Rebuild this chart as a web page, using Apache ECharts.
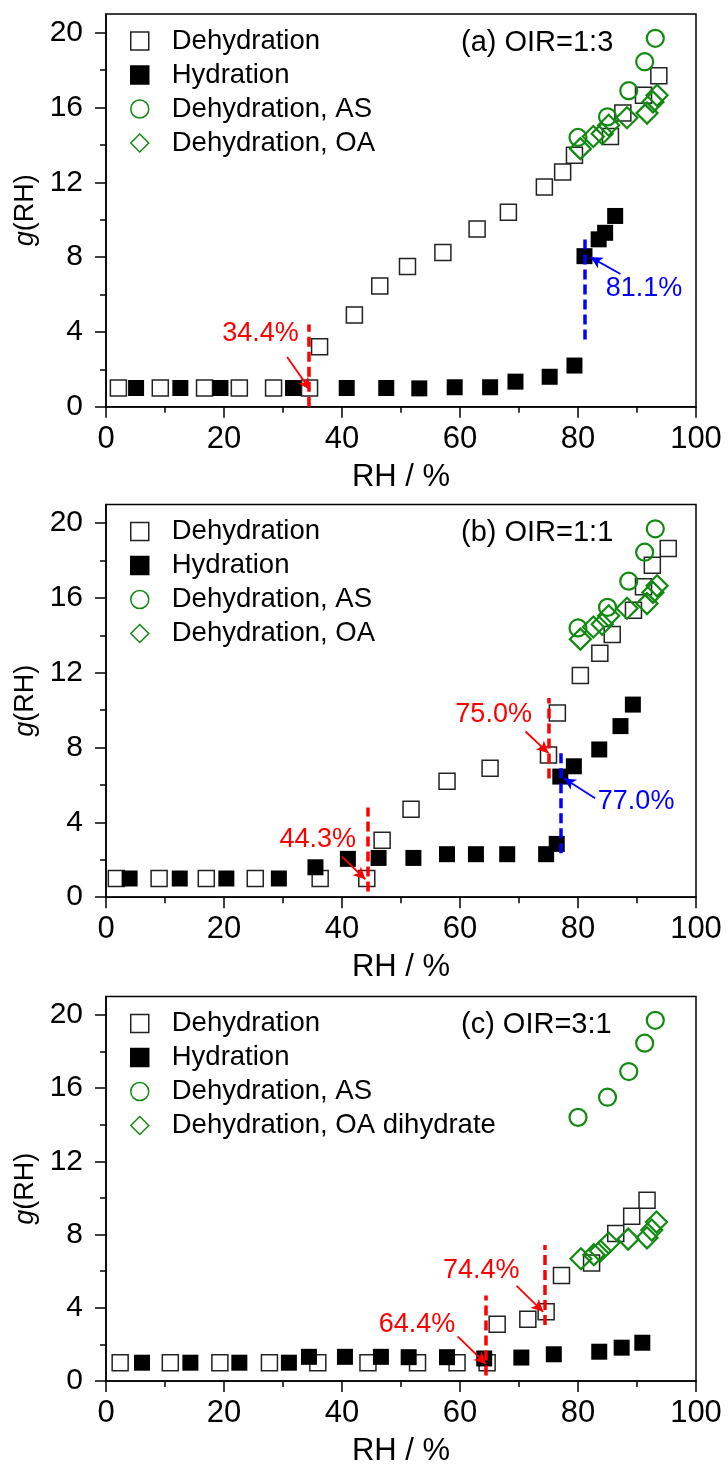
<!DOCTYPE html>
<html>
<head>
<meta charset="utf-8">
<script src="https://cdn.jsdelivr.net/npm/echarts@6/dist/echarts.min.js"></script>
<style>
  html, body { margin: 0; padding: 0; background: #fff; }
  #chart { width: 728px; height: 1468px; }
</style>
</head>
<body>
<div id="chart"></div>
<script>
  // ---- data, [RH %, g(RH)] ----
  // (a) OIR=1:3
  const dehydA = [[2.1, 1.0], [9.2, 1.0], [16.7, 1.0], [22.6, 1.0], [28.4, 1.0], [34.5, 1.0], [36.2, 3.2], [42.1, 4.9], [46.4, 6.45], [51.1, 7.5], [57.1, 8.25], [62.9, 9.5], [68.2, 10.4], [74.3, 11.75], [77.4, 12.55], [79.4, 13.45], [85.5, 14.45], [87.6, 15.7], [91.1, 16.65], [93.7, 17.7]];
  const hydA = [[5.1, 1.0], [12.6, 1.0], [19.4, 1.0], [31.7, 1.0], [40.8, 1.0], [47.5, 1.0], [53.1, 0.98], [59.1, 1.04], [65.1, 1.04], [69.4, 1.34], [75.2, 1.6], [79.4, 2.2], [81.1, 8.05], [83.5, 8.95], [84.6, 9.3], [86.3, 10.2]];
  // (b) OIR=1:1
  const dehydB = [[1.75, 1.0], [9.0, 1.0], [17.0, 1.0], [25.3, 1.0], [36.3, 1.0], [44.2, 1.0], [46.8, 3.05], [51.7, 4.7], [57.8, 6.2], [65.1, 6.9], [75.0, 7.6], [76.5, 9.85], [80.4, 11.85], [83.7, 13.05], [85.8, 14.05], [89.4, 15.35], [91.1, 16.6], [92.6, 17.75], [95.3, 18.65]];
  const hydB = [[4.0, 1.0], [12.5, 1.0], [20.4, 1.0], [29.3, 1.0], [35.5, 1.6], [41.0, 2.05], [46.2, 2.1], [52.1, 2.1], [57.8, 2.3], [62.7, 2.3], [68.0, 2.3], [74.6, 2.3], [76.4, 2.85], [77.0, 6.45], [79.3, 7.0], [83.6, 7.9], [87.2, 9.15], [89.3, 10.3]];
  // (c) OIR=3:1
  const dehydC = [[2.4, 1.0], [10.9, 1.0], [19.3, 1.0], [27.7, 1.0], [35.9, 1.0], [44.4, 1.0], [52.8, 1.0], [59.5, 1.0], [64.6, 1.0], [66.3, 3.1], [71.5, 3.37], [74.6, 3.78], [77.2, 5.76], [82.3, 6.45], [86.4, 8.05], [89.1, 9.0], [91.7, 9.87]];
  const hydC = [[6.1, 1.0], [14.3, 1.0], [22.6, 1.0], [31.0, 1.0], [34.4, 1.32], [40.5, 1.32], [46.6, 1.32], [51.3, 1.3], [57.8, 1.3], [64.1, 1.23], [70.4, 1.28], [75.9, 1.46], [83.6, 1.6], [87.4, 1.82], [90.9, 2.09]];
  // pure components (same in every panel)
  const asDehyd = [[80.0, 14.4], [85.0, 15.5], [88.6, 16.9], [91.3, 18.45], [93.1, 19.7]];
  const oaDehyd = [[80.4, 13.8], [82.6, 14.45], [84.1, 14.6], [85.2, 15.05], [88.3, 15.45], [91.7, 15.7], [92.7, 16.3], [93.4, 16.65]];
  const oaDihydrate = [[80.5, 6.68], [82.7, 6.9], [83.8, 7.1], [85.2, 7.54], [88.5, 7.75], [91.7, 7.82], [92.5, 8.25], [93.3, 8.68]];

  const panelTitles = ['(a) OIR=1:3', '(b) OIR=1:1', '(c) OIR=3:1'];
  const legendNames = [
    ['Dehydration', 'Hydration', 'Dehydration, AS', 'Dehydration, OA'],
    ['Dehydration', 'Hydration', 'Dehydration, AS', 'Dehydration, OA'],
    ['Dehydration', 'Hydration', 'Dehydration, AS', 'Dehydration, OA dihydrate'],
  ];
  const xTicks = [0, 20, 40, 60, 80, 100];
  const yTicks = [0, 4, 8, 12, 16, 20];
  const yMinorTicks = [2, 6, 10, 14, 18];

  // transition marks: kind 'eff' = dehydration (red), 'del' = hydration (blue)
  // line: [x, yFrom, yTo], at: label position, arrow: [x0, y0, x1, y1]
  const notesA = [
    { kind: 'eff', line: [34.4, 0, 4.4], text: '34.4%', at: [26.2, 3.9], arrow: [30.7, 2.66, 34.6, 0.9] },
    { kind: 'del', line: [81.1, 3.6, 9.0], text: '81.1%', at: [91.2, 6.3], arrow: [87.2, 7.1, 82.1, 8.0] },
  ];
  const notesB = [
    { kind: 'eff', line: [44.3, 0.3, 4.8], text: '44.3%', at: [35.9, 3.06], arrow: [40.0, 2.17, 43.95, 0.96] },
    { kind: 'eff', line: [75.0, 6.35, 10.65], text: '75.0%', at: [65.7, 9.75], arrow: [71.1, 8.86, 75.0, 7.7] },
    { kind: 'del', line: [77.0, 2.35, 7.7], text: '77.0%', at: [89.85, 5.1], arrow: [82.9, 5.29, 77.6, 6.36] },
  ];
  const notesC = [
    { kind: 'eff', line: [64.4, 0.3, 4.67], text: '64.4%', at: [52.7, 3.06], arrow: [59.6, 2.44, 64.4, 0.93] },
    { kind: 'eff', line: [74.4, 3.06, 7.43], text: '74.4%', at: [63.6, 6.04], arrow: [69.6, 5.2, 74.1, 3.78] },
  ];

  // ---- layout / style ----
  const FONT = 'Liberation Sans, Arial, sans-serif';
  const GREEN = '#128a12';
  const kindColor = { eff: '#ff0000', del: '#0000ff' };
  const gridTops = [14, 504.5, 996.5];

  const chart = echarts.init(document.getElementById('chart'));

  const grids = [], xAxes = [], yAxes = [], series = [], legends = [], titles = [];
  const panels = [
    [dehydA, hydA, asDehyd, oaDehyd, notesA],
    [dehydB, hydB, asDehyd, oaDehyd, notesB],
    [dehydC, hydC, asDehyd, oaDihydrate, notesC],
  ];

  panels.forEach(function (p, i) {
    const top = gridTops[i];
    grids.push({
      left: 106, top: top, width: 590, height: 392.7,
      show: true, borderColor: '#000', borderWidth: 1.5,
    });
    xAxes.push({
      gridIndex: i, type: 'value', min: 0, max: 100, interval: 20,
      name: 'RH / %', nameLocation: 'middle', nameGap: 55,
      nameTextStyle: { fontSize: 31, color: '#000', fontFamily: FONT },
      axisLine: { onZero: false, lineStyle: { color: '#000', width: 1.5 } },
      axisTick: { length: 11, lineStyle: { color: '#000', width: 1.5 } },
      minorTick: { show: true, splitNumber: 2, length: 6, lineStyle: { color: '#000', width: 1.5 } },
      axisLabel: { fontSize: 31, color: '#000', margin: 17, fontFamily: FONT, customValues: xTicks },
      splitLine: { show: false },
    });
    yAxes.push({
      gridIndex: i, type: 'value', min: 0, max: 21, interval: 4, position: 'left',
      name: '{i|g}(RH)', nameLocation: 'middle', nameGap: 52,
      nameTextStyle: {
        fontSize: 27, color: '#000', fontFamily: FONT,
        rich: { i: { fontStyle: 'italic', fontSize: 27, fontFamily: FONT, color: '#000' } },
      },
      axisLine: { onZero: false, lineStyle: { color: '#000', width: 1.5 } },
      axisTick: { length: 11, customValues: yTicks, lineStyle: { color: '#000', width: 1.5 } },
      axisLabel: { fontSize: 30, color: '#000', margin: 23, fontFamily: FONT, customValues: yTicks },
      splitLine: { show: false },
    });
    // second y axis only for the short minor ticks
    yAxes.push({
      gridIndex: i, type: 'value', min: 0, max: 21, interval: 2, position: 'left', offset: 0,
      axisLine: { show: false },
      axisTick: { length: 6, customValues: yMinorTicks, lineStyle: { color: '#000', width: 1.5 } },
      axisLabel: { show: false },
      splitLine: { show: false },
    });

    titles.push({
      text: panelTitles[i], left: 461, top: top + 14, padding: 0,
      textStyle: { fontSize: 29, fontWeight: 'normal', color: '#000', fontFamily: FONT },
    });
    legends.push({
      orient: 'vertical', left: 130, top: top + 13, padding: 0,
      itemWidth: 18, itemHeight: 18, itemGap: 6, selectedMode: false,
      data: legendNames[i],
      itemStyle: { borderWidth: 1.5, opacity: 1 },
      textStyle: { fontSize: 27.5, lineHeight: 28, color: '#000', fontFamily: FONT, padding: [0, 0, 0, 18] },
    });

    const names = legendNames[i];
    const yIdx = i * 2;
    series.push({
      name: names[0], type: 'scatter', xAxisIndex: i, yAxisIndex: yIdx, data: p[0],
      symbol: 'rect', symbolSize: 16,
      itemStyle: { color: 'rgba(255,255,255,0)', borderColor: '#222', borderWidth: 1.5, opacity: 1 },
    });
    series.push({
      name: names[1], type: 'scatter', xAxisIndex: i, yAxisIndex: yIdx, data: p[1],
      symbol: 'rect', symbolSize: 16,
      itemStyle: { color: '#000', borderColor: '#000', borderWidth: 0, opacity: 1 },
    });
    series.push({
      name: names[2], type: 'scatter', xAxisIndex: i, yAxisIndex: yIdx, data: p[2],
      symbol: 'circle', symbolSize: 17,
      itemStyle: { color: 'rgba(255,255,255,0)', borderColor: GREEN, borderWidth: 2.2, opacity: 1 },
    });
    series.push({
      name: names[3], type: 'scatter', xAxisIndex: i, yAxisIndex: yIdx, data: p[3],
      symbol: 'diamond', symbolSize: 21,
      itemStyle: { color: 'rgba(255,255,255,0)', borderColor: GREEN, borderWidth: 2.2, opacity: 1 },
    });

    // transition annotations
    const notes = p[4];
    const lines = [], labels = [];
    notes.forEach(function (n) {
      const c = kindColor[n.kind];
      lines.push([
        { coord: [n.line[0], n.line[1]], symbol: 'none', lineStyle: { color: c, width: 3.5, type: [10, 5] } },
        { coord: [n.line[0], n.line[2]], symbol: 'none' },
      ]);
      lines.push([
        { coord: [n.arrow[0], n.arrow[1]], symbol: 'none', lineStyle: { color: c, width: 1.8, type: 'solid' } },
        { coord: [n.arrow[2], n.arrow[3]], symbol: 'arrow', symbolSize: [9, 12], itemStyle: { color: c } },
      ]);
      labels.push({ coord: n.at, name: n.text, label: { color: c } });
    });
    series.push({
      type: 'scatter', xAxisIndex: i, yAxisIndex: yIdx, data: [], silent: true,
      markLine: {
        silent: true, animation: false, symbol: 'none', label: { show: false },
        emphasis: { disabled: true }, data: lines,
      },
      markPoint: {
        silent: true, animation: false, symbol: 'rect', symbolSize: 1,
        itemStyle: { color: 'rgba(0,0,0,0)' },
        label: { show: true, position: 'inside', formatter: '{b}', fontSize: 27, fontFamily: FONT },
        data: labels,
      },
    });
  });

  chart.setOption({
    backgroundColor: '#fff',
    animation: false,
    title: titles,
    legend: legends,
    grid: grids,
    xAxis: xAxes,
    yAxis: yAxes,
    series: series,
  });
</script>
</body>
</html>
